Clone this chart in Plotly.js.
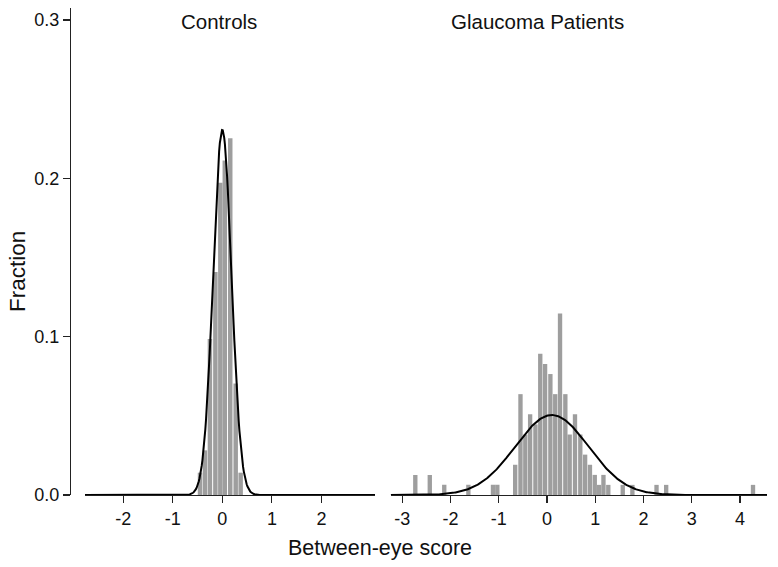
<!DOCTYPE html>
<html>
<head>
<meta charset="utf-8">
<script src="https://cdn.plot.ly/plotly-3.0.1.min.js"></script>
<style>html,body{margin:0;padding:0;background:#fff;}#chart{width:778px;height:567px;}</style>
</head>
<body>
<div id="chart"></div>
<script>
// ---- Data ----
// Controls histogram: bin centres and fraction per bin
const controlsX = [-0.45, -0.35, -0.25, -0.14, -0.04, 0.05, 0.16, 0.27, 0.37];
const controlsFrac = [0.0141, 0.0282, 0.0986, 0.1408, 0.1972, 0.2113, 0.2254, 0.0704, 0.0141];
// Glaucoma patients histogram
const glaucomaX = [-2.73, -2.43, -2.13, -1.63, -1.12, -1.03, -0.66, -0.55, -0.45, -0.35, -0.24, -0.14, -0.04,
                   0.07, 0.17, 0.27, 0.38, 0.47, 0.58, 0.69, 0.79, 0.89, 0.99, 1.08, 1.17, 1.27, 1.57, 1.77, 2.27, 2.47, 4.27];
const glaucomaFrac = [0.0127, 0.0127, 0.0064, 0.0064, 0.0064, 0.0064, 0.0191, 0.0637, 0.0382, 0.0510, 0.0446, 0.0892, 0.0828,
                      0.0764, 0.0637, 0.1146, 0.0637, 0.0382, 0.0510, 0.0382, 0.0255, 0.0191, 0.0127, 0.0064, 0.0127, 0.0064,
                      0.0064, 0.0064, 0.0064, 0.0064, 0.0064];
// Fitted normal overlays (mean, sd, peak fraction)
const controlsFit = {mean: 0.0, sd: 0.185, peak: 0.2306};
const glaucomaFit = {mean: 0.10, sd: 0.76, peak: 0.0505};
const panelTitles = ["Controls", "Glaucoma Patients"];
const xTicksLeft = [-2, -1, 0, 1, 2];
const xTicksRight = [-3, -2, -1, 0, 1, 2, 3, 4];
const yTicks = [0, 0.1, 0.2, 0.3];
const yTickText = ["0.0", "0.1", "0.2", "0.3"];

const xRangeLeft = [-2.77, 3.08];
const xRangeRight = [-3.24, 4.56];

function normalCurve(fit, range) {
  const xs = [], ys = [];
  const n = 400;
  for (let i = 0; i <= n; i++) {
    const x = range[0] + (range[1] - range[0]) * i / n;
    xs.push(x);
    ys.push(fit.peak * Math.exp(-Math.pow(x - fit.mean, 2) / (2 * fit.sd * fit.sd)));
  }
  return {xs, ys};
}

const cL = normalCurve(controlsFit, xRangeLeft);
const cR = normalCurve(glaucomaFit, xRangeRight);

const barColor = "rgb(158,158,158)";
const traces = [
  {type: "bar", x: controlsX, y: controlsFrac, width: 0.09, xaxis: "x", yaxis: "y",
   marker: {color: barColor, line: {width: 0}}, hoverinfo: "skip"},
  {type: "bar", x: glaucomaX, y: glaucomaFrac, width: 0.09, xaxis: "x2", yaxis: "y",
   marker: {color: barColor, line: {width: 0}}, hoverinfo: "skip"},
  {type: "scatter", mode: "lines", x: cL.xs, y: cL.ys, xaxis: "x", yaxis: "y",
   line: {color: "#000", width: 2}, hoverinfo: "skip"},
  {type: "scatter", mode: "lines", x: cR.xs, y: cR.ys, xaxis: "x2", yaxis: "y",
   line: {color: "#000", width: 2}, hoverinfo: "skip"}
];

const W = 697; // plot width
const font = "Liberation Sans, Arial, Helvetica, sans-serif";
const axisCommon = {
  showgrid: false, zeroline: false, showline: true, linecolor: "#222", linewidth: 1.3,
  ticks: "outside", ticklen: 7, tickwidth: 1.2, tickcolor: "#222",
  tickfont: {family: font, size: 18, color: "#111"}, fixedrange: true
};

const layout = {
  width: 778, height: 567,
  margin: {l: 70, r: 11, t: 8, b: 72},
  paper_bgcolor: "#fff", plot_bgcolor: "#fff",
  showlegend: false,
  barmode: "overlay",
  font: {family: font, color: "#111"},
  xaxis: Object.assign({}, axisCommon, {domain: [15 / W, 305 / W], range: xRangeLeft, tickvals: xTicksLeft,
    ticktext: xTicksLeft.map(String), anchor: "y"}),
  xaxis2: Object.assign({}, axisCommon, {domain: [320.7 / W, 1], range: xRangeRight, tickvals: xTicksRight,
    ticktext: xTicksRight.map(String), anchor: "y"}),
  yaxis: Object.assign({}, axisCommon, {range: [0, 0.3076], tickvals: yTicks, ticktext: yTickText,
    anchor: "free", position: 0}),
  annotations: [
    {text: panelTitles[0], xref: "paper", yref: "paper", x: (219 - 70) / W, y: (495 - 22) / 487,
     xanchor: "center", yanchor: "middle", showarrow: false, font: {family: font, size: 20.5, color: "#111"}},
    {text: panelTitles[1], xref: "paper", yref: "paper", x: (537 - 70) / W, y: (495 - 22) / 487,
     xanchor: "center", yanchor: "middle", showarrow: false, font: {family: font, size: 20.5, color: "#111"}},
    {text: "Between-eye score", xref: "paper", yref: "paper", x: (380 - 70) / W, y: (495 - 548) / 487,
     xanchor: "center", yanchor: "middle", showarrow: false, font: {family: font, size: 21.5, color: "#111"}},
    {text: "Fraction", xref: "paper", yref: "paper", x: (17 - 70) / W, y: (495 - 272) / 487, textangle: -90,
     xanchor: "center", yanchor: "middle", showarrow: false, font: {family: font, size: 22.5, color: "#111"}}
  ]
};

Plotly.newPlot("chart", traces, layout, {staticPlot: true, displayModeBar: false});
</script>
</body>
</html>
